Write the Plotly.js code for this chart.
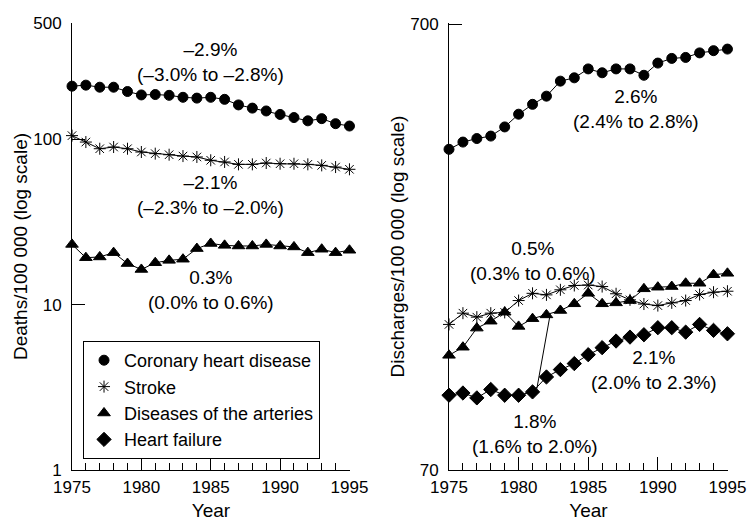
<!DOCTYPE html>
<html>
<head>
<meta charset="utf-8">
<script src="https://cdn.plot.ly/plotly-3.0.1.min.js"></script>
<style>html,body{margin:0;padding:0;background:#fff;}</style>
</head>
<body>
<div id="chart" style="width:749px;height:521px;"></div>
<script>
// ---- data ----
const years = [1975,1976,1977,1978,1979,1980,1981,1982,1983,1984,1985,1986,1987,1988,1989,1990,1991,1992,1993,1994,1995];

// Left panel: deaths per 100 000 (log scale)
const deathsCHD      = [209,212,206,206,194,185,186,184,179,177,179,174,161,154,148,141,135,129,133,124,120];
const deathsStroke   = [105,96,87.5,89.6,87.5,83.6,81.7,80.5,79,78,74.5,72.8,70.4,70.4,71.7,71,71,70.4,69.4,67.8,65.7];
const deathsArteries = [23.1,19.2,19.4,20.6,17.7,16.3,17.9,18.5,18.8,21.8,23.4,22.8,22.6,22.6,23.1,22.6,22.3,20.6,21.6,20.6,21.3];

// Right panel: discharges per 100 000 (log scale)
const dischCHD      = [367,381,388,393,412,440,463,483,522,531,556,545,556,556,538,573,587,590,604,611,616];
const dischStroke   = [148.5,157.4,154.2,157.4,158,168,174.4,173,177.6,181.6,182,180.6,174,168.6,165,163.7,166,168,173.3,175.4,176.3];
const dischArteries = [126.6,132,145.7,151,158.2,147,153,156,159.6,165.2,174.4,165.2,166,168,178.5,180,180.6,183.7,183.7,192,193.4];
const dischHF       = [103,104.2,101.6,106.1,103,103,104.8,113.2,117.6,121.3,127,131.7,136.3,139.1,140.8,146,146,142.7,148.5,144,141.5];

const seriesNames = ['Coronary heart disease','Stroke','Diseases of the arteries','Heart failure'];

const xTickVals = [1975,1980,1985,1990,1995];
const leftYTicks = [1,10,100,500];
const rightYTicks = [70,700];

const leftTrend = [
  {text:'–2.9%<br>(–3.0% to –2.8%)', x:1985, y:292.8},
  {text:'–2.1%<br>(–2.3% to –2.0%)', x:1985, y:46.1},
  {text:'0.3%<br>(0.0% to 0.6%)',     x:1985, y:12.3}
];
const rightTrend = [
  {text:'2.6%<br>(2.4% to 2.8%)', x:1988.4, y:453},
  {text:'0.5%<br>(0.3% to 0.6%)', x:1981.05, y:206},
  {text:'2.1%<br>(2.0% to 2.3%)', x:1989.75, y:117.5},
  {text:'1.8%<br>(1.6% to 2.0%)', x:1981.15, y:84.5}
];

// ---- styles ----
const FONT = 'Liberation Sans, Arial, Helvetica, sans-serif';
const symbols = {
  'Coronary heart disease': {symbol:'circle', size:10},
  'Stroke': {symbol:'asterisk-open', size:10},
  'Diseases of the arteries': {symbol:'triangle-up', size:11},
  'Heart failure': {symbol:'diamond', size:11}
};

function lineTrace(y, xa, ya) {
  return {x: years, y: y, xaxis: xa, yaxis: ya, mode:'lines', showlegend:false,
          line:{color:'#000', width:1}, hoverinfo:'skip'};
}
function markerTrace(y, name, xa, ya, showLegend, rank) {
  const s = symbols[name];
  return {x: years, y: y, xaxis: xa, yaxis: ya, mode:'markers', name: name,
          showlegend: showLegend, legendrank: rank, cliponaxis:false,
          marker:{symbol:s.symbol, size:s.size, color:'#000', line:{color:'#000', width:1}}};
}

const data = [
  lineTrace(deathsCHD,'x','y'),
  lineTrace(deathsStroke,'x','y'),
  lineTrace(deathsArteries,'x','y'),
  lineTrace(dischCHD,'x2','y2'),
  lineTrace(dischStroke,'x2','y2'),
  lineTrace(dischArteries,'x2','y2'),
  lineTrace(dischHF,'x2','y2'),
  markerTrace(deathsCHD, seriesNames[0],'x','y', true, 1),
  markerTrace(deathsStroke, seriesNames[1],'x','y', true, 2),
  markerTrace(deathsArteries, seriesNames[2],'x','y', true, 3),
  markerTrace(dischCHD, seriesNames[0],'x2','y2', false, 10),
  markerTrace(dischStroke, seriesNames[1],'x2','y2', false, 11),
  markerTrace(dischArteries, seriesNames[2],'x2','y2', false, 12),
  markerTrace(dischHF, seriesNames[3],'x2','y2', true, 4)
];

const TICKC = '#000';
const xCommon = {
  range:[1975,1995.04], tickmode:'array', tickvals:xTickVals, ticks:'inside', ticklen:13, tickwidth:1, tickcolor:TICKC,
  minor:{tickmode:'linear', tick0:1975, dtick:1, ticks:'inside', ticklen:7, tickwidth:1, tickcolor:'#000', showgrid:false},
  showline:true, linecolor:'#000', linewidth:1, showgrid:false, zeroline:false,
  tickfont:{family:FONT, size:17, color:'#000'}, ticklabelstandoff:2,
  title:{text:'Year', font:{family:FONT, size:19, color:'#000'}, standoff:11},
  automargin:false, fixedrange:true
};
const yCommon = {
  type:'log', tickmode:'array', ticks:'inside', ticklen:13, tickwidth:1, tickcolor:TICKC,
  showline:true, linecolor:'#000', linewidth:1, showgrid:false, zeroline:false,
  tickfont:{family:FONT, size:17, color:'#000'}, ticklabelstandoff:6,
  automargin:false, fixedrange:true
};

const annotations = [];
leftTrend.forEach(a => annotations.push({
  xref:'x', yref:'y', x:a.x, y:Math.log10(a.y), text:a.text, showarrow:false,
  font:{family:FONT, size:19, color:'#000'}, align:'center'
}));
rightTrend.forEach(a => annotations.push({
  xref:'x2', yref:'y2', x:a.x, y:Math.log10(a.y), text:a.text, showarrow:false,
  font:{family:FONT, size:19, color:'#000'}, align:'center'
}));
// connector from the 1.8% label to the arteries series
annotations.push({
  xref:'x2', yref:'y2', axref:'x2', ayref:'y2',
  x:1982.24, y:2.1896, ax:1981.29, ay:2.0241,
  text:'', showarrow:true, arrowhead:0, arrowwidth:1, arrowcolor:'#000', standoff:0, startstandoff:0
});

const layout = {
  width:749, height:521,
  margin:{l:72, r:21, t:23, b:51, pad:0},
  paper_bgcolor:'#fff', plot_bgcolor:'rgba(0,0,0,0)',
  font:{family:FONT, color:'#000'},
  showlegend:true,
  legend:{x:0.0168, y:0.2886, xanchor:'left', yanchor:'top',
          bgcolor:'#fff', bordercolor:'#000', borderwidth:1,
          font:{family:FONT, size:18, color:'#000'}, tracegroupgap:0, itemwidth:30},
  xaxis: Object.assign({}, xCommon, {domain:[0, 0.4238], anchor:'y'}),
  xaxis2: Object.assign({}, xCommon, {domain:[0.5747, 1], anchor:'y2'}),
  yaxis: Object.assign({}, yCommon, {
    domain:[0,1], anchor:'x', range:[0, Math.log10(500)+0.003], tickvals:leftYTicks, ticktext:leftYTicks.map(String),
    title:{text:'Deaths/100 000 (log scale)', font:{family:FONT, size:19, color:'#000'}, standoff:0}
  }),
  yaxis2: Object.assign({}, yCommon, {
    domain:[0,1], anchor:'x2', range:[Math.log10(70), Math.log10(700)+0.003], tickvals:rightYTicks, ticktext:rightYTicks.map(String),
    title:{text:'Discharges/100 000 (log scale)', font:{family:FONT, size:19, color:'#000'}, standoff:0}
  }),
  annotations: annotations
};

Plotly.newPlot('chart', data, layout, {staticPlot:true, displayModeBar:false});
</script>
</body>
</html>
